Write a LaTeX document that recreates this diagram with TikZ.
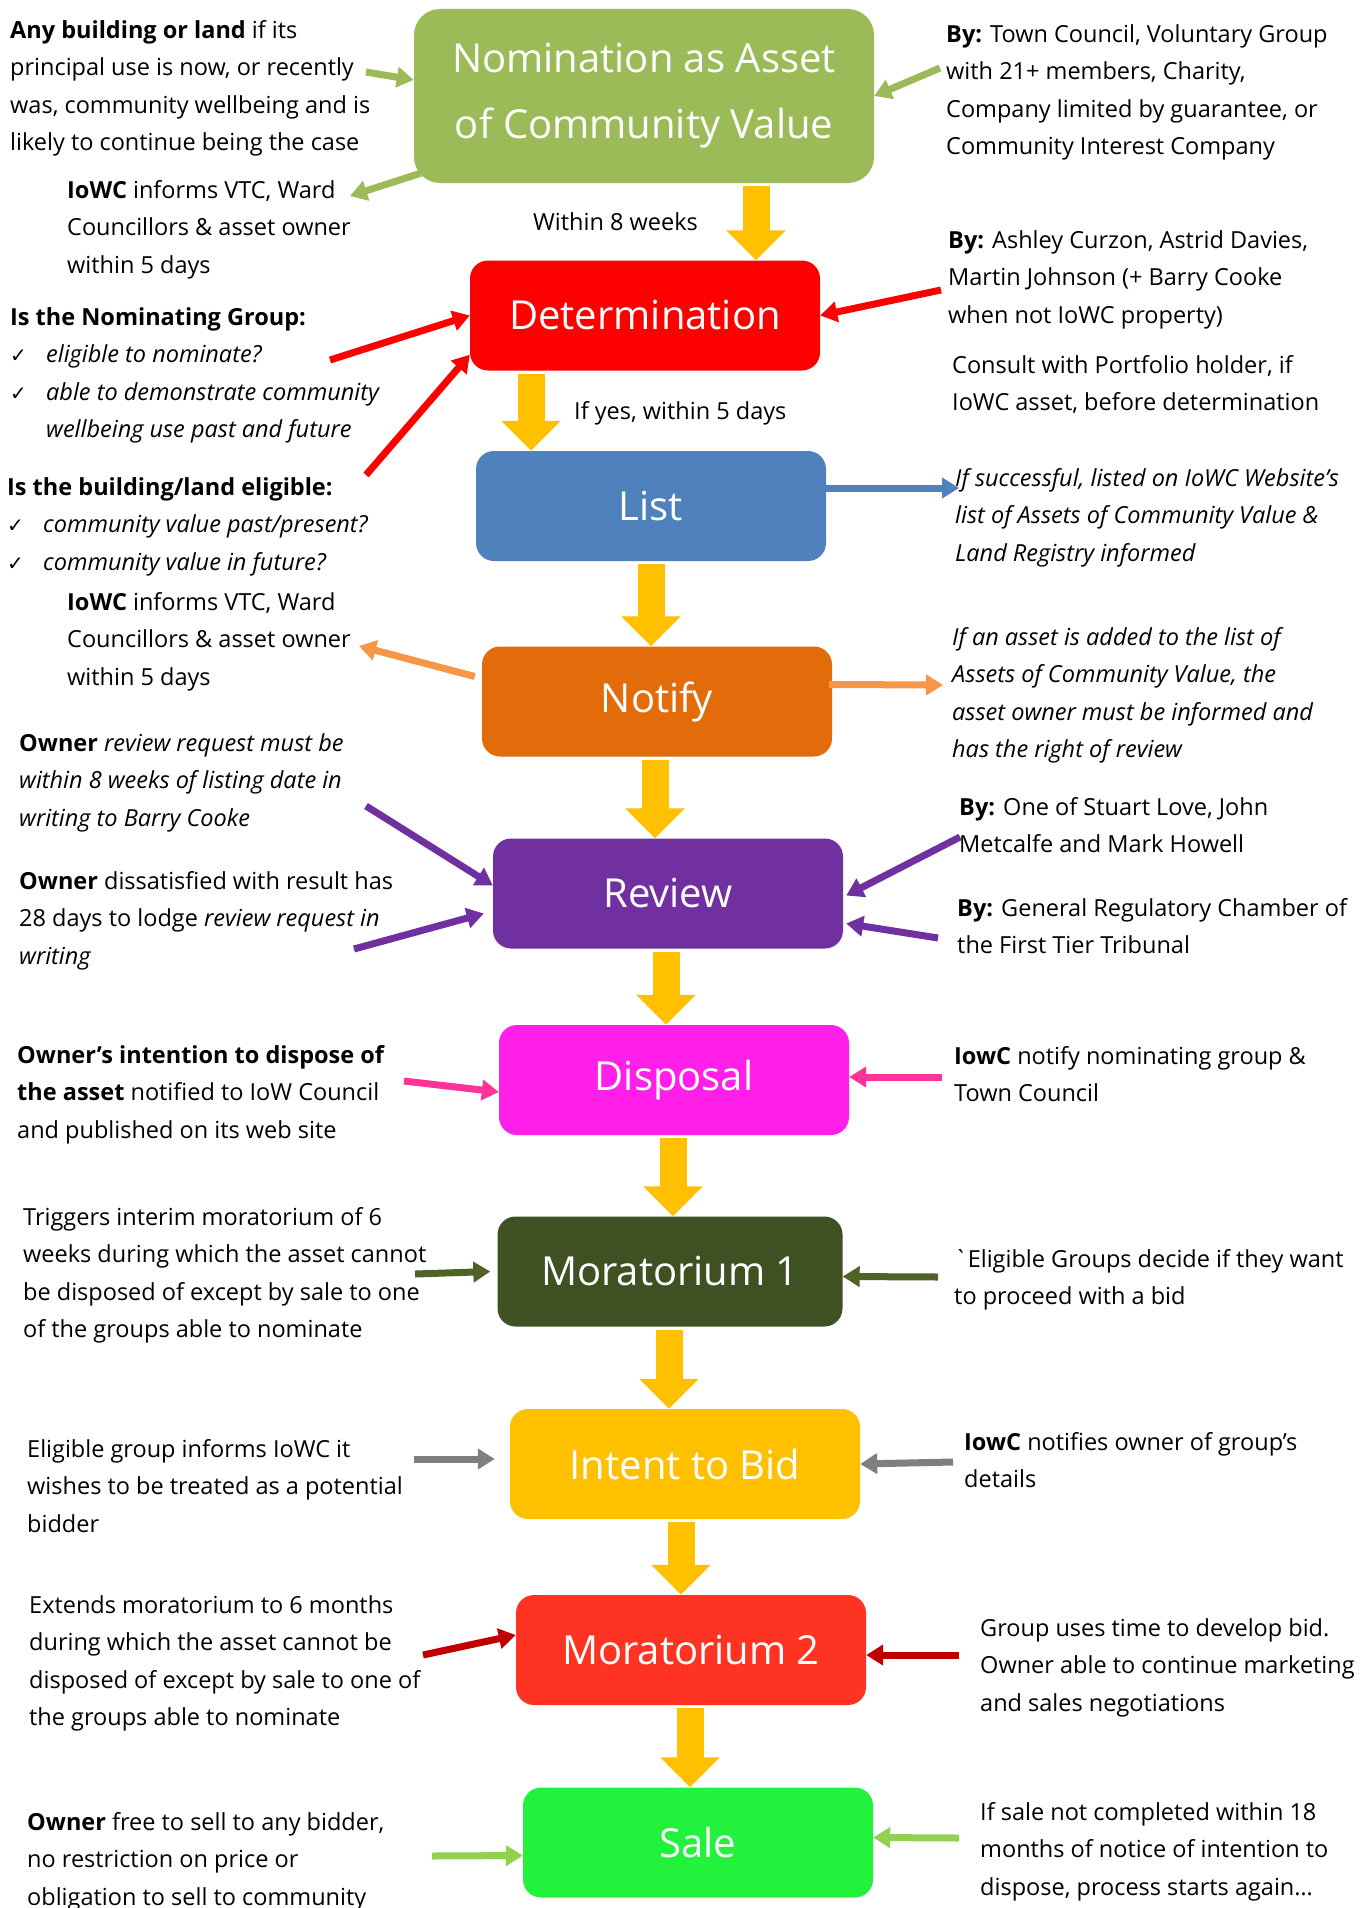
\documentclass[tikz,border=0pt]{standalone}
\usepackage{fontspec}
\setmainfont{Open Sans}
\newfontfamily\tickfont{DejaVu Sans}
\usetikzlibrary{arrows.meta}

\definecolor{nomgreen}{HTML}{9BBB59}
\definecolor{detred}{HTML}{FF0000}
\definecolor{listblue}{HTML}{4F81BD}
\definecolor{notifyorange}{HTML}{E36C0A}
\definecolor{notifylight}{HTML}{F79646}
\definecolor{reviewpurple}{HTML}{7030A0}
\definecolor{disposalpink}{HTML}{FF1FE8}
\definecolor{hotpink}{HTML}{FF3399}
\definecolor{mordark}{HTML}{3F5123}
\definecolor{morolive}{HTML}{4F6228}
\definecolor{bidgold}{HTML}{FFC000}
\definecolor{arrowgrey}{HTML}{7F7F7F}
\definecolor{mortwored}{HTML}{FF3322}
\definecolor{darkred}{HTML}{C00000}
\definecolor{salegreen}{HTML}{22F23C}
\definecolor{lightgreen}{HTML}{92D050}

\newcommand{\checkitem}{\makebox[36pt][l]{\tickfont\fontsize{20}{20}\selectfont ✓}}

\tikzset{
stage/.style={rectangle, rounded corners=18pt, minimum width=350pt, minimum height=110pt, inner sep=0pt, text=white, font=\fontsize{40}{66}\selectfont}, % coloured step boxes
flow/.style={draw=bidgold, line width=27pt, shorten <=3pt, -{Triangle[width=58pt,length=30pt]}}, % big yellow arrows
feed/.style={draw=#1, line width=7pt, -{Triangle[width=20pt,length=17pt]}}, % thin side arrows
note/.style={anchor=north west, align=left, inner sep=0pt, yshift=-3pt, font=\fontsize{23.5}{37.6}\selectfont}, % side texts
}

\begin{document}
\begin{tikzpicture}[x=1pt, y=-1pt]
\fill[white] (0,0) rectangle (1369,1908);
\useasboundingbox (0,0) rectangle (1369,1908);

\node[stage, fill=nomgreen, minimum width=460pt, minimum height=174pt, rounded corners=26pt, align=center] (nom) at (644,96) {Nomination as Asset\\of Community Value};
\node[stage, fill=detred] (det) at (645,315.5) {Determination};
\node[stage, fill=listblue] (lst) at (651,506) {List};
\node[stage, fill=notifyorange] (ntf) at (657,701.5) {Notify};
\node[stage, fill=reviewpurple] (rev) at (668,893.5) {Review};
\node[stage, fill=disposalpink] (dsp) at (674,1080) {Disposal};
\node[stage, fill=mordark, minimum width=345pt] (mor1) at (670,1271.5) {Moratorium 1};
\node[stage, fill=bidgold] (bid) at (685,1464) {Intent to Bid};
\node[stage, fill=mortwored] (mor2) at (691,1650) {Moratorium 2};
\node[stage, fill=salegreen] (sale) at (698,1842.5) {Sale};

\draw[flow] ([xshift=112pt]nom.south) -- ([xshift=112pt]nom.south |- det.north);
\draw[flow] ([xshift=-114pt]det.south) -- ([xshift=-114pt]det.south |- lst.north);
\draw[flow] (lst.south) -- (lst.south |- ntf.north);
\draw[flow] ([xshift=-2pt]ntf.south) -- ([xshift=-2pt]ntf.south |- rev.north);
\draw[flow] ([xshift=-2pt]rev.south) -- ([xshift=-2pt]rev.south |- dsp.north);
\draw[flow] ([xshift=-1pt]dsp.south) -- ([xshift=-1pt]dsp.south |- mor1.north);
\draw[flow] ([xshift=-1pt]mor1.south) -- ([xshift=-1pt]mor1.south |- bid.north);
\draw[flow] ([xshift=-4pt]bid.south) -- ([xshift=-4pt]bid.south |- mor2.north);
\draw[flow] ([xshift=-1pt]mor2.south) -- ([xshift=-1pt]mor2.south |- sale.north);

\node[note] (within8) at (533,209) {Within 8 weeks};
\node[note] (ifyes) at (574,398) {If yes, within 5 days};

\node[note] (anyland) at (10,17) {\textbf{Any building or land} if its\\principal use is now, or recently\\was, community wellbeing and is\\likely to continue being the case};
\node[note] (inform1) at (67,177) {\textbf{IoWC} informs VTC, Ward\\Councillors \& asset owner\\within 5 days};
\node[note] (nomgroup) at (10,304) {\textbf{Is the Nominating Group:}\\\checkitem\textit{eligible to nominate?}\\\checkitem\textit{able to demonstrate community}\\\hspace*{36pt}\textit{wellbeing use past and future}};
\node[note] (landelig) at (7,474) {\textbf{Is the building/land eligible:}\\\checkitem\textit{community value past/present?}\\\checkitem\textit{community value in future?}};
\node[note] (inform2) at (67,589) {\textbf{IoWC} informs VTC, Ward\\Councillors \& asset owner\\within 5 days};
\node[note] (owner1) at (19,730) {\textbf{Owner} \textit{review request must be}\\\textit{within 8 weeks of listing date in}\\\textit{writing to Barry Cooke}};
\node[note] (owner2) at (19,868) {\textbf{Owner} dissatisfied with result has\\28 days to lodge \textit{review request in}\\\textit{writing}};
\node[note] (intention) at (17,1042) {\textbf{Owner’s intention to dispose of}\\\textbf{the asset} notified to IoW Council\\and published on its web site};
\node[note] (triggers) at (23,1204) {Triggers interim moratorium of 6\\weeks during which the asset cannot\\be disposed of except by sale to one\\of the groups able to nominate};
\node[note] (wishes) at (27,1436) {Eligible group informs IoWC it\\wishes to be treated as a potential\\bidder};
\node[note] (extends) at (29,1592) {Extends moratorium to 6 months\\during which the asset cannot be\\disposed of except by sale to one of\\the groups able to nominate};
\node[note] (freesell) at (27,1809) {\textbf{Owner} free to sell to any bidder,\\no restriction on price or\\obligation to sell to community};

\node[note] (bytown) at (946,21) {\textbf{By:} Town Council, Voluntary Group\\with 21+ members, Charity,\\Company limited by guarantee, or\\Community Interest Company};
\node[note] (byashley) at (948,227) {\textbf{By:} Ashley Curzon, Astrid Davies,\\Martin Johnson (+ Barry Cooke\\when not IoWC property)};
\node[note] (consult) at (952,352) {Consult with Portfolio holder, if\\IoWC asset, before determination};
\node[note] (listed) at (955,465) {\textit{If successful, listed on IoWC Website’s}\\\textit{list of Assets of Community Value \&}\\\textit{Land Registry informed}};
\node[note] (added) at (952,624) {\textit{If an asset is added to the list of}\\\textit{Assets of Community Value, the}\\\textit{asset owner must be informed and}\\\textit{has the right of review}};
\node[note] (bystuart) at (959,794) {\textbf{By:} One of Stuart Love, John\\Metcalfe and Mark Howell};
\node[note] (bychamber) at (957,895) {\textbf{By:} General Regulatory Chamber of\\the First Tier Tribunal};
\node[note] (notifygrp) at (954,1043) {\textbf{IowC} notify nominating group \&\\Town Council};
\node[note] (decide) at (954,1246) {\textasciigrave Eligible Groups decide if they want\\to proceed with a bid};
\node[note] (notifyown) at (964,1429) {\textbf{IowC} notifies owner of group’s\\details};
\node[note] (develop) at (980,1615) {Group uses time to develop bid.\\Owner able to continue marketing\\and sales negotiations};
\node[note] (again) at (980,1799) {If sale not completed within 18\\months of notice of intention to\\dispose, process starts again…};

\coordinate (c-any) at (366,72);
\coordinate (c-inform1) at (350,196);
\coordinate (c-bytown) at (940,68);
\coordinate (c-byashley) at (941,290);
\coordinate (c-group) at (330,360);
\coordinate (c-land) at (366,475);
\coordinate (c-listed) at (959,488);
\coordinate (c-inform2) at (359,646);
\coordinate (c-added) at (943,685);
\coordinate (c-owner1) at (366,806);
\coordinate (c-owner2) at (354,949);
\coordinate (c-bystuart) at (960,837);
\coordinate (c-bychamber) at (938,938);
\coordinate (c-intention) at (404,1081);
\coordinate (c-notifygrp) at (942,1077);
\coordinate (c-triggers) at (415,1274);
\coordinate (c-decide) at (938,1277);
\coordinate (c-wishes) at (414,1459);
\coordinate (c-notifyown) at (953,1462);
\coordinate (c-extends) at (423,1655);
\coordinate (c-develop) at (959,1655);
\coordinate (c-freesell) at (432,1856);
\coordinate (c-again) at (959,1838);

\draw[feed=nomgreen] (c-any) -- ([yshift=16pt]nom.west);
\draw[feed=nomgreen] ([shift={(7pt,10pt)}]nom.south west) -- (c-inform1);
\draw[feed=nomgreen] (c-bytown) -- (nom.east);
\draw[feed=detred] (c-byashley) -- (det.east);
\draw[feed=detred] (c-group) -- (det.west);
\draw[feed=detred] (c-land) -- ([yshift=16pt]det.south west);
\draw[feed=listblue] ([yshift=18pt]lst.east) -- (c-listed);
\draw[feed=notifylight] ([shift={(-7pt,25pt)}]ntf.west) -- (c-inform2);
\draw[feed=notifylight] ([shift={(-3pt,17pt)}]ntf.east) -- (c-added);
\draw[feed=reviewpurple] (c-owner1) -- ([yshift=8pt]rev.west);
\draw[feed=reviewpurple] (c-owner2) -- ([shift={(-9pt,-20pt)}]rev.west);
\draw[feed=reviewpurple] (c-bystuart) -- ([shift={(3pt,-2pt)}]rev.east);
\draw[feed=reviewpurple] (c-bychamber) -- ([shift={(3pt,-30pt)}]rev.east);
\draw[feed=hotpink] (c-intention) -- ([yshift=-12pt]dsp.west);
\draw[feed=hotpink] (c-notifygrp) -- ([yshift=3pt]dsp.east);
\draw[feed=morolive] (c-triggers) -- ([xshift=-7pt]mor1.west);
\draw[feed=morolive] (c-decide) -- ([yshift=-5pt]mor1.east);
\draw[feed=arrowgrey] (c-wishes) -- ([shift={(-15pt,5pt)}]bid.west);
\draw[feed=arrowgrey] (c-notifyown) -- (bid.east);
\draw[feed=darkred] (c-extends) -- ([yshift=15pt]mor2.west);
\draw[feed=darkred] (c-develop) -- ([yshift=-5pt]mor2.east);
\draw[feed=lightgreen] (c-freesell) -- ([yshift=-13pt]sale.west);
\draw[feed=lightgreen] (c-again) -- ([yshift=5pt]sale.east);
\end{tikzpicture}
\end{document}
